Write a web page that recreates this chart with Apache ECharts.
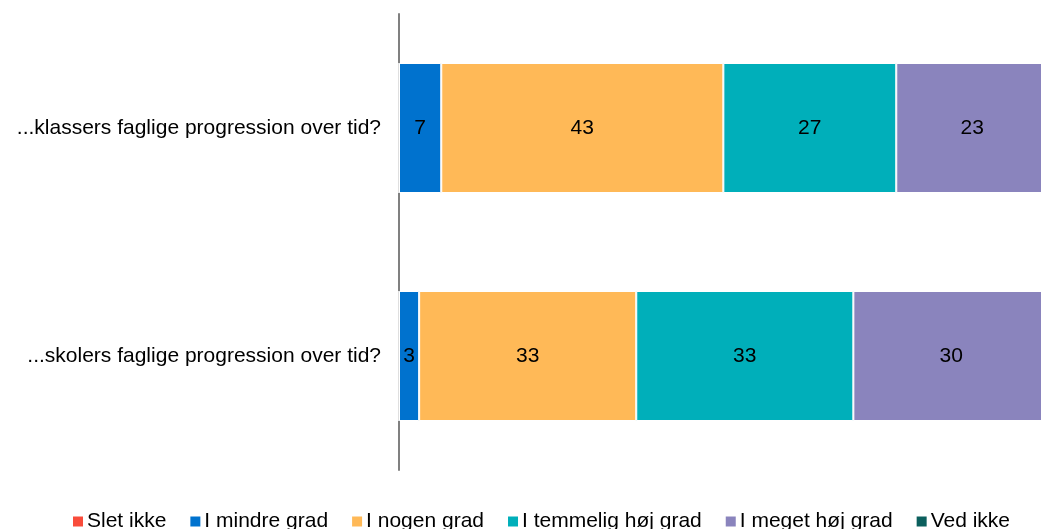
<!DOCTYPE html>
<html>
<head>
<meta charset="utf-8">
<script src="https://cdn.jsdelivr.net/npm/echarts@6/dist/echarts.min.js"></script>
<style>
  html, body { margin: 0; padding: 0; background: #fff; overflow: hidden; }
  /* chart is a bit wider than the window so the bars run off the right edge */
  #chart { width: 1050px; height: 529px; }
</style>
</head>
<body>
<div id="chart"></div>
<script>
const categories = ['...klassers faglige progression over tid?', '...skolers faglige progression over tid?'];
const seriesNames = ['Slet ikke', 'I mindre grad', 'I nogen grad', 'I temmelig høj grad', 'I meget høj grad', 'Ved ikke'];
// percentages (labels show them rounded)
const sletIkke = [0, 0];
const mindreGrad = [6.5, 3.1];
const nogenGrad = [43.4, 33.4];
const temmeligHoej = [26.6, 33.4];
const megetHoej = [23.4, 30.1];
const vedIkke = [0, 0];
const colors = ['#F94C3B', '#0072CE', '#FFB957', '#00AFBA', '#8A84BD', '#0B5F5D'];

const values = [sletIkke, mindreGrad, nogenGrad, temmeligHoej, megetHoej, vedIkke];

const chart = echarts.init(document.getElementById('chart'));
chart.setOption({
  animation: false,
  textStyle: { fontFamily: 'Liberation Sans, Arial, sans-serif' },
  grid: { left: 399, right: 1, top: 14, bottom: 59, containLabel: false },
  legend: {
    top: 506,
    left: 66,
    icon: 'rect',
    itemWidth: 12,
    itemHeight: 12,
    itemGap: 22,
    textStyle: { fontSize: 21, color: '#000', padding: [0, 0, 0, -2] },
    data: seriesNames
  },
  xAxis: {
    type: 'value',
    min: 0,
    max: 100,
    show: false
  },
  yAxis: {
    type: 'category',
    inverse: true,
    data: categories,
    axisLine: { lineStyle: { color: '#808080', width: 2 } },
    axisTick: { show: false },
    axisLabel: { fontSize: 21, color: '#000', margin: 18 }
  },
  series: seriesNames.map((name, i) => ({
    name: name,
    type: 'bar',
    stack: 'total',
    barWidth: 130,
    itemStyle: { color: colors[i], borderColor: '#fff', borderWidth: 1 },
    label: {
      show: true,
      color: '#000',
      fontSize: 21,
      formatter: p => (p.value > 0 ? Math.round(p.value) : '')
    },
    data: values[i]
  }))
});
</script>
</body>
</html>
